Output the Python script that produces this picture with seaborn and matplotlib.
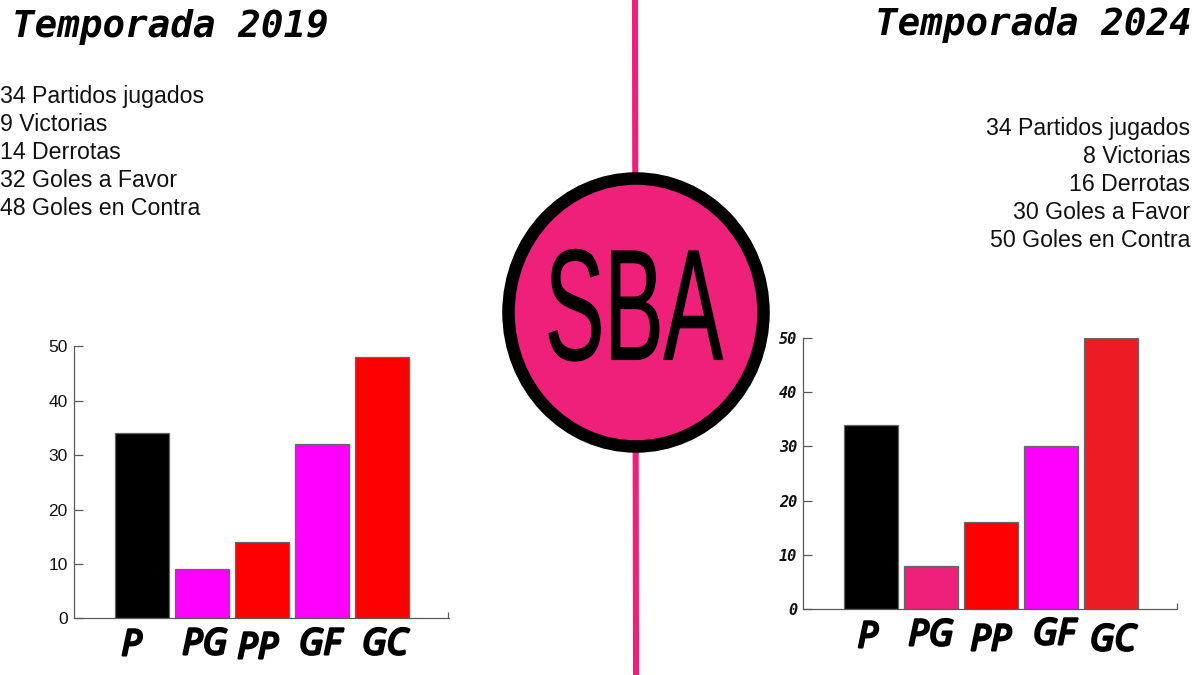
"""Compare the 2019 and 2024 seasons of SBA side by side."""
import matplotlib
matplotlib.use("Agg")
import matplotlib.patheffects as pe
import matplotlib.pyplot as plt
import pandas as pd
import seaborn as sns
from matplotlib.patches import Ellipse
from matplotlib.transforms import Affine2D

W, H = 1200, 675

categories = ["P", "PG", "PP", "GF", "GC"]
values_2019 = [34, 9, 14, 32, 48]
values_2024 = [34, 8, 16, 30, 50]
stat_names = ["Partidos jugados", "Victorias", "Derrotas", "Goles a Favor", "Goles en Contra"]
stats_2019 = [34, 9, 14, 32, 48]
stats_2024 = [34, 8, 16, 30, 50]
colors_2019 = ["#000000", "#FF00FF", "#FF0000", "#FF00FF", "#FF0000"]
colors_2024 = ["#000000", "#EE2079", "#FF0000", "#FF00FF", "#ED1C24"]

PINK = "#EE2079"
SPINE = "#5a5a5a"
MONO = "DejaVu Sans Mono"


class StretchText(pe.AbstractPathEffect):
    """Stretch a text about its left baseline point and thicken it with a stroke."""

    def __init__(self, sx, sy, stroke):
        super().__init__()
        self.sx = sx
        self.sy = sy
        self.stroke = stroke

    def draw_path(self, renderer, gc, tpath, affine, rgbFace=None):
        gc0 = renderer.new_gc()
        gc0.copy_properties(gc)
        gc0.set_linewidth(self.stroke)
        gc0.set_foreground("black")
        renderer.draw_path(gc0, tpath, Affine2D().scale(self.sx, self.sy) + affine, rgbFace)
        gc0.restore()


def season_bars(fig, box, values, colors, offsets, tick_font):
    left, top, right, bottom = box
    ax = fig.add_axes([left / W, 1 - bottom / H, (right - left) / W, (bottom - top) / H])
    ax.patch.set_alpha(0)
    data = pd.DataFrame({"cat": categories, "val": values})
    sns.barplot(data=data, x="cat", y="val", hue="cat", palette=colors, legend=False,
                width=0.9, saturation=1, edgecolor="#666666", linewidth=0.9, ax=ax)
    ax.set_xlim(-1.125, 5.11)
    ax.set_ylim(0, 50)
    ax.set_xlabel("")
    ax.set_ylabel("")
    sns.despine(ax=ax)
    for side in ("left", "bottom"):
        ax.spines[side].set_color(SPINE)
        ax.spines[side].set_linewidth(0.9)

    ax.set_yticks([0, 10, 20, 30, 40, 50])
    ax.tick_params(axis="y", left=True, direction="in", length=6.5, width=0.9, color=SPINE, pad=4.5)
    for lbl in ax.get_yticklabels():
        lbl.set(**tick_font)

    # small closing mark at the right end of the x axis
    ax.set_xticks([5.105], minor=True)
    ax.tick_params(axis="x", which="minor", bottom=True, direction="in", length=4.5, width=0.9, color=SPINE)
    ax.tick_params(axis="x", which="major", length=0, pad=0)
    for lbl, (dx, dy) in zip(ax.get_xticklabels(), offsets):
        lbl.set(family="Noto Sans", style="italic", fontsize=26, color="black", va="baseline")
        lbl.set_path_effects([pe.withStroke(linewidth=1.8, foreground="black")])
        lbl.set_transform(lbl.get_transform() + Affine2D().translate(dx, -dy))
    return ax


sns.set_theme(style="white")
plt.rcParams["font.family"] = ["Liberation Sans", "DejaVu Sans"]
fig = plt.figure(figsize=(W / 100, H / 100), dpi=100, facecolor="white")

# overlay in pixel coordinates for divider, badge and text
bg = fig.add_axes([0, 0, 1, 1])
bg.set_xlim(0, W)
bg.set_ylim(H, 0)
bg.axis("off")
bg.plot([635, 636], [0, H], color=PINK, lw=4.4, solid_capstyle="butt", zorder=1)
bg.add_patch(Ellipse((636, 312.5), 255, 268, facecolor=PINK, edgecolor="black", lw=9, zorder=2))
bg.text(545, 359.5, "SBA", family="Liberation Sans", fontsize=80, color="black",
        ha="left", va="baseline", zorder=3, path_effects=[StretchText(0.8, 1.42, 0.8)])

bg.text(12, 37, "Temporada 2019", family=MONO, weight="bold", style="italic",
        fontsize=27, color="black", ha="left", va="baseline")
bg.text(1192, 35, "Temporada 2024", family=MONO, weight="bold", style="italic",
        fontsize=27, color="black", ha="right", va="baseline")

for i, (num, name) in enumerate(zip(stats_2019, stat_names)):
    bg.text(0, 97 + i * 27.8, f"{num} {name}", fontsize=16.7, color="#111111", ha="left", va="center")
for i, (num, name) in enumerate(zip(stats_2024, stat_names)):
    bg.text(1190, 129 + i * 27.8, f"{num} {name}", fontsize=16.7, color="#111111", ha="right", va="center")

season_bars(fig, (74, 346.3, 448.5, 618.3), values_2019, colors_2019,
            [(-10, 37), (3, 36), (-4, 40), (-2, 36), (3, 36)],
            {"family": "Liberation Sans", "fontsize": 12.5, "color": "#111111"})
season_bars(fig, (803.3, 337.7, 1177.3, 609.3), values_2024, colors_2024,
            [(-3, 38), (0, 36), (0, 41), (3, 35), (2, 41)],
            {"family": MONO, "weight": "bold", "style": "italic", "fontsize": 11, "color": "#111111"})

fig.savefig("out.png", dpi=100)
